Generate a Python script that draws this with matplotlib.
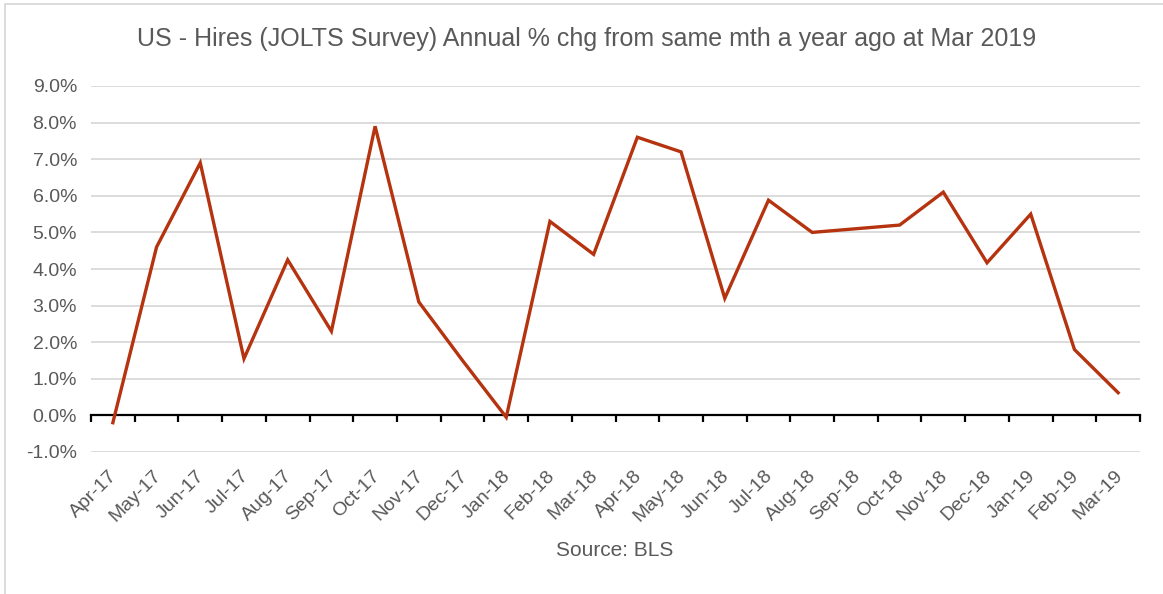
import matplotlib
matplotlib.use("Agg")
import matplotlib.pyplot as plt
from matplotlib.patches import Rectangle
from matplotlib.ticker import FuncFormatter, MultipleLocator

months = ["Apr-17", "May-17", "Jun-17", "Jul-17", "Aug-17", "Sep-17", "Oct-17",
          "Nov-17", "Dec-17", "Jan-18", "Feb-18", "Mar-18", "Apr-18", "May-18",
          "Jun-18", "Jul-18", "Aug-18", "Sep-18", "Oct-18", "Nov-18", "Dec-18",
          "Jan-19", "Feb-19", "Mar-19"]
hires_yoy = [-0.2, 4.6, 6.9, 1.55, 4.25, 2.3, 7.9, 3.1, 1.5, -0.05, 5.3, 4.4,
             7.6, 7.2, 3.2, 5.88, 5.0, 5.1, 5.2, 6.1, 4.17, 5.5, 1.8, 0.62]

plt.rcParams["font.family"] = ["Liberation Sans", "DejaVu Sans"]
TEXT = "#595959"
LINE = "#B5330F"

fig = plt.figure(figsize=(11.63, 5.94), dpi=100)
ax = fig.add_axes([91 / 1163, 1 - 452 / 594, (1140 - 91) / 1163, (452 - 86) / 594])

x = list(range(len(months)))
ax.plot(x, hires_yoy, color=LINE, lw=2.4, solid_joinstyle="miter", zorder=3)

ax.set_xlim(-0.5, len(months) - 0.5)
ax.set_ylim(-1, 9)
ax.yaxis.set_major_locator(MultipleLocator(1))
ax.yaxis.set_major_formatter(FuncFormatter(lambda v, _: f"{v:.1f}%"))
ax.grid(axis="y", color="#D9D9D9", lw=1.3)
ax.set_axisbelow(True)

for s in ("top", "right", "left"):
    ax.spines[s].set_visible(False)
ax.spines["bottom"].set_position(("data", 0))
ax.spines["bottom"].set_color("black")
ax.spines["bottom"].set_linewidth(1.6)
ax.spines["bottom"].set_zorder(2)

# category boundaries get the tick marks, labels sit under each month
ax.set_xticks([i - 0.5 for i in range(len(months) + 1)])
ax.set_xticklabels([])
ax.tick_params(axis="x", which="major", direction="out", length=5, width=1.6, color="black")
ax.tick_params(axis="y", length=0, labelsize=14, labelcolor=TEXT, pad=10)

trans = ax.get_xaxis_transform()
for i, m in enumerate(months):
    ax.annotate(m, xy=(i, 0), xycoords=trans, xytext=(-3, -11), textcoords="offset points",
                rotation=45, ha="right", va="top", rotation_mode="anchor",
                fontsize=14, color=TEXT)

fig.text(587 / 1163, 1 - 39 / 594, "US - Hires (JOLTS Survey) Annual % chg from same mth a year ago at Mar 2019",
         ha="center", va="center", fontsize=18, color=TEXT)
fig.text(615 / 1163, 1 - 551 / 594, "Source: BLS", ha="center", va="center",
         fontsize=15, color=TEXT)

fig.patches.append(Rectangle((5 / 1163, -0.1), 1.2, 1 - 4 / 594 + 0.1,
                             transform=fig.transFigure, fill=False,
                             edgecolor="#D9D9D9", lw=1.3))

fig.savefig("out.png", dpi=100)
